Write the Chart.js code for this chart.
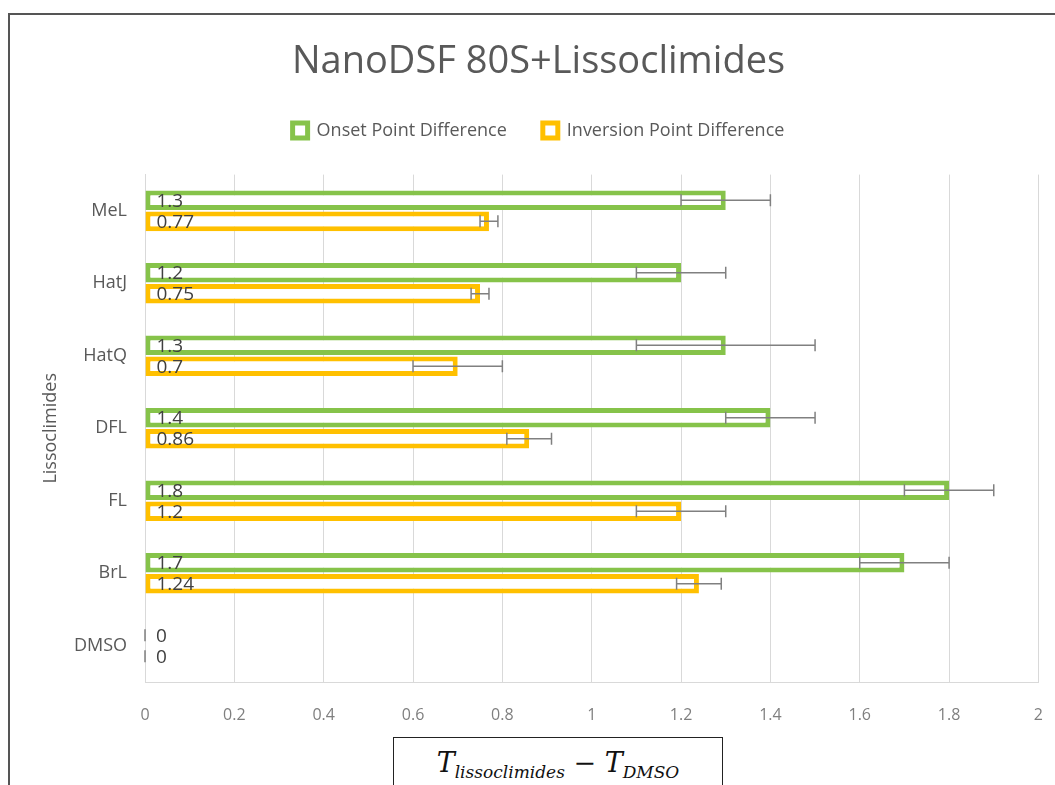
<!DOCTYPE html>
<html>
<head>
<meta charset="utf-8">
<script src="https://cdn.jsdelivr.net/npm/chart.js@4"></script>
<style>
  html, body { margin: 0; padding: 0; background: #fff; overflow: hidden; }
  #wrap { position: relative; width: 1055px; height: 785px; overflow: hidden; }
  #frame { position: absolute; left: 8px; top: 13px; width: 1060px; height: 800px; border: 2px solid #555; box-sizing: border-box; }
  #chart { position: absolute; left: 0; top: 0; }
  #formula {
    position: absolute; left: 393px; top: 737px; width: 330px; height: 60px;
    border: 1.5px solid #222; box-sizing: border-box; background: #fff;
    font-family: "DejaVu Serif", "Liberation Serif", serif; font-style: italic;
    font-size: 27px; text-align: center; padding-top: 9px; color: #111;
  }
  #formula sub { font-size: 17px; }
</style>
</head>
<body>
<div id="wrap">
  <div id="frame"></div>
  <canvas id="chart" width="1067" height="785"></canvas>
  <div id="formula">T<sub>lissoclimides</sub> <span style="font-style:normal">&minus;</span> T<sub>DMSO</sub></div>
</div>
<script>
// Data
const compounds = ['MeL', 'HatJ', 'HatQ', 'DFL', 'FL', 'BrL', 'DMSO'];
const onsetDiff = [1.3, 1.2, 1.3, 1.4, 1.8, 1.7, 0];
const onsetErr = [0.1, 0.1, 0.2, 0.1, 0.1, 0.1, 0];
const inversionDiff = [0.77, 0.75, 0.7, 0.86, 1.2, 1.24, 0];
const inversionErr = [0.02, 0.02, 0.1, 0.05, 0.1, 0.05, 0];
const xTicks = [0, 0.2, 0.4, 0.6, 0.8, 1, 1.2, 1.4, 1.6, 1.8, 2];

const errors = [onsetErr, inversionErr];
const grey = '#595959';

// error bars + value labels drawn from the bar elements
const barExtras = {
    id: 'barExtras',
    afterInit(chart) {
        const fit = chart.legend.fit;
        chart.legend.fit = function () { fit.call(this); this.height += 25; };
    },
    afterDatasetsDraw(chart) {
        const ctx = chart.ctx;
        const xs = chart.scales.x;
        chart.data.datasets.forEach((ds, i) => {
            const meta = chart.getDatasetMeta(i);
            meta.data.forEach((bar, j) => {
                const v = ds.data[j];
                const e = errors[i][j];
                const x1 = xs.getPixelForValue(v - e);
                const x2 = xs.getPixelForValue(v + e);
                ctx.save();
                ctx.strokeStyle = '#808080';
                ctx.lineWidth = 1.5;
                ctx.beginPath();
                ctx.moveTo(x1, bar.y); ctx.lineTo(x2, bar.y);
                ctx.moveTo(x1, bar.y - 6); ctx.lineTo(x1, bar.y + 6);
                ctx.moveTo(x2, bar.y - 6); ctx.lineTo(x2, bar.y + 6);
                ctx.stroke();
                ctx.fillStyle = '#404040';
                ctx.font = '19px "Open Sans"';
                ctx.textBaseline = 'middle';
                ctx.textAlign = 'left';
                ctx.fillText(String(v), bar.base + 11, bar.y + 1);
                ctx.restore();
            });
        });
    }
};

new Chart(document.getElementById('chart').getContext('2d'), {
    type: 'bar',
    data: {
        labels: compounds,
        datasets: [
            { label: 'Onset Point Difference', data: onsetDiff, backgroundColor: '#ffffff', borderColor: '#86c34a', borderWidth: 5, borderSkipped: false },
            { label: 'Inversion Point Difference', data: inversionDiff, backgroundColor: '#ffffff', borderColor: '#ffc000', borderWidth: 5, borderSkipped: false }
        ]
    },
    options: {
        indexAxis: 'y',
        responsive: false,
        animation: false,
        datasets: { bar: { categoryPercentage: 0.58, barPercentage: 0.93 } },
        layout: { padding: { left: 10, right: 0, top: 13, bottom: 43 } },
        plugins: {
            title: { display: true, text: 'NanoDSF 80S+Lissoclimides', color: grey, font: { family: 'Open Sans', size: 38, weight: 'normal' }, padding: { top: 26, bottom: 1 } },
            legend: { position: 'top', labels: { color: grey, font: { family: 'Open Sans', size: 18 }, boxWidth: 15, boxHeight: 15, padding: 36 } },
            tooltip: { enabled: false }
        },
        scales: {
            x: {
                min: 0, max: 2,
                afterBuildTicks: (s) => { s.ticks = xTicks.map(v => ({ value: v })); },
                afterFit: (s) => { s.height = 60; },
                grid: { color: '#d9d9d9', drawTicks: false },
                border: { color: '#d9d9d9' },
                ticks: { color: '#7f7f7f', font: { family: 'Open Sans', size: 16 }, padding: 24, callback: (v) => String(v) }
            },
            y: {
                afterFit: (s) => { s.width = 135; },
                grid: { display: false, drawTicks: false },
                border: { color: '#d9d9d9' },
                ticks: { color: grey, font: { family: 'Open Sans', size: 18 }, padding: 18 },
                title: { display: true, text: 'Lissoclimides', color: grey, font: { family: 'Open Sans', size: 18 }, padding: { top: 30 } }
            }
        }
    },
    plugins: [barExtras]
});
</script>
</body>
</html>
